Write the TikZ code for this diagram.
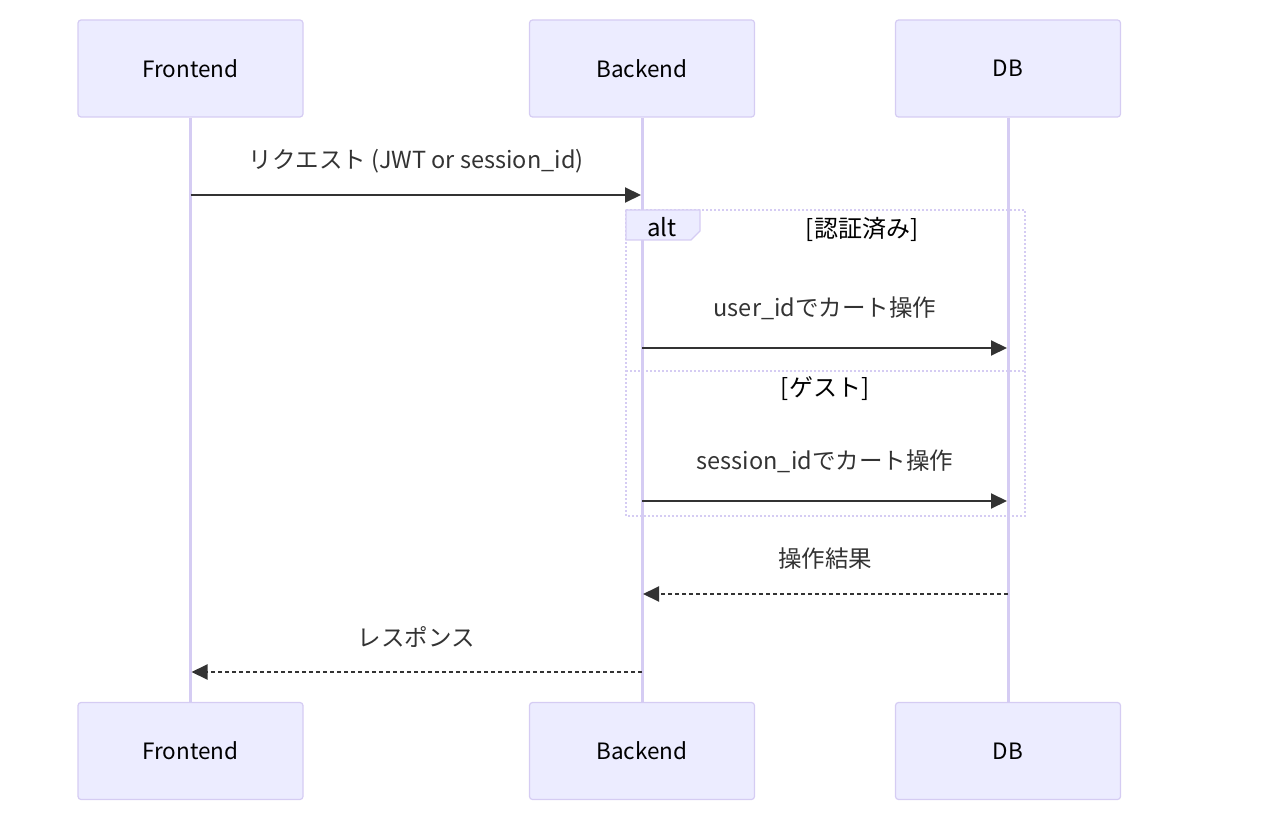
\documentclass[tikz,border=0pt]{standalone}
\usepackage{fontspec}
\setmainfont{Noto Sans CJK JP}
\usetikzlibrary{arrows.meta}
\definecolor{actfill}{HTML}{ECECFF}
\definecolor{actline}{HTML}{D5CCF3}
\definecolor{msgcol}{HTML}{333333}
\pgfdeclarelayer{background layer}
\pgfsetlayers{background layer,main}
\tikzstyle{actor}=[rectangle,rounded corners=3pt,draw=actline,fill=actfill,line width=1.2pt,minimum width=225pt,minimum height=97pt,font=\fontsize{22.5}{26}\selectfont]
\tikzstyle{lifeline}=[draw=actline,line width=3pt]
\tikzstyle{msg}=[draw=msgcol,line width=2pt,-{Triangle[length=16pt,width=15pt]},shorten >=1pt]
\tikzstyle{reply}=[msg,dash pattern=on 4pt off 3pt]
\tikzstyle{lbl}=[text=msgcol,font=\fontsize{23.5}{27}\selectfont]
\tikzstyle{altline}=[draw=actline,line width=2pt,dash pattern=on 2pt off 2pt]
\tikzstyle{alttext}=[font=\fontsize{24}{28}\selectfont]

\begin{document}
\begin{tikzpicture}[x=1pt,y=-1pt]
			\useasboundingbox (0,0) rectangle (1261,821);
			\node (fe) at (190.5,68.5) [actor] {Frontend};
			\node (be) at (642,68.5) [actor] {Backend};
			\node (db) at (1008,68.5) [actor] {DB};
			\node (fe2) at (190.5,751) [actor] {Frontend};
			\node (be2) at (642,751) [actor] {Backend};
			\node (db2) at (1008,751) [actor] {DB};
			% points on the lifelines
			\coordinate (fe1) at (190.5,195);
			\coordinate (be1) at (642,195);
			\coordinate (be3) at (642,348);
			\coordinate (db3) at (1008,348);
			\coordinate (be4) at (642,501);
			\coordinate (db4) at (1008,501);
			\coordinate (db5) at (1008,594);
			\coordinate (be5) at (642,594);
			\coordinate (be6) at (642,672);
			\coordinate (fe6) at (190.5,672);
			\begin{pgfonlayer}{background layer}
				\draw [lifeline] (fe.south)--(fe2.north);
				\draw [lifeline] (be.south)--(be2.north);
				\draw [lifeline] (db.south)--(db2.north);
			\end{pgfonlayer}
			% alt frame
			\draw [altline] (626,210) rectangle (1025,516);
			\draw [altline] (626,371)--(1025,371);
			\filldraw [draw=actline,fill=actfill,line width=1.2pt] (626,210)--(700,210)--(700,231)--(691,240)--(626,240)--cycle;
			\node (alt) at (662,227) [alttext] {alt};
			\node (authd) at (862,229) [alttext] {[認証済み]};
			\node (guest) at (825,389) [alttext] {[ゲスト]};
			% messages
			\draw [msg] (fe1)--(be1) node [lbl,midway,yshift=34pt] {リクエスト (JWT or session\_id)};
			\draw [msg] (be3)--(db3) node [lbl,midway,yshift=40pt] {user\_idでカート操作};
			\draw [msg] (be4)--(db4) node [lbl,midway,yshift=40pt] {session\_idでカート操作};
			\draw [reply] (db5)--(be5) node [lbl,midway,yshift=35pt] {操作結果};
			\draw [reply] (be6)--(fe6) node [lbl,midway,yshift=35pt] {レスポンス};
		\end{tikzpicture}
\end{document}
